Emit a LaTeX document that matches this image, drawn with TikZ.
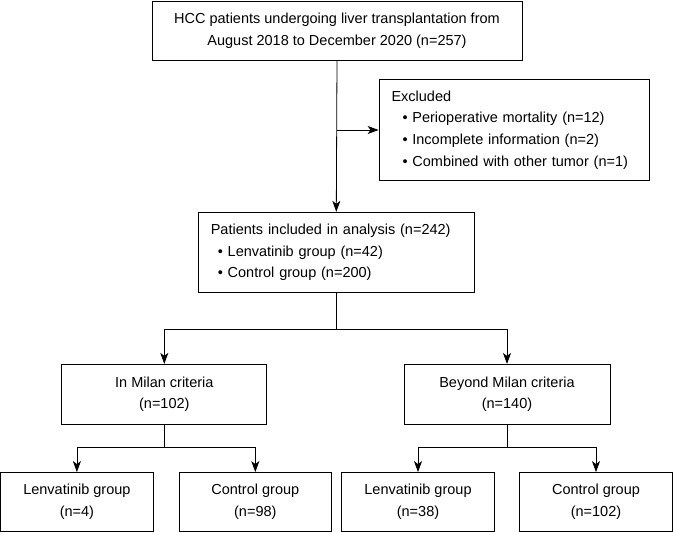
\documentclass[tikz,border=0pt]{standalone}
\usepackage{fontspec}
\setmainfont{Liberation Sans}
\usetikzlibrary{arrows.meta}
\begin{document}
\begin{tikzpicture}[x=1pt,y=-1pt,
  every node/.style={font=\fontsize{14.5}{21.7}\selectfont},
  box/.style={draw=black, line width=0.8pt, inner sep=0pt, align=center},
  lbox/.style={draw=black, line width=0.8pt, inner xsep=12.5pt, inner ysep=0pt, align=left},
  line/.style={line width=0.8pt},
  arr/.style={line width=0.8pt, -{Stealth[length=11pt,width=8pt,inset=3pt]}}
]
\useasboundingbox (0,0) rectangle (673,533);
\node[box, minimum width=370pt, minimum height=59pt] (top) at (337,30.5)
  {HCC patients undergoing liver transplantation from\\August 2018 to December 2020 (n=257)};
\node[lbox, minimum width=270pt, minimum height=101.5pt, text width=245pt] (excl) at (514,130)
  {Excluded\\\hspace*{11pt}\textbullet\ Perioperative mortality (n=12)\\\hspace*{11pt}\textbullet\ Incomplete information (n=2)\\\hspace*{11pt}\textbullet\ Combined with other tumor (n=1)};
\node[lbox, minimum width=276pt, minimum height=80.5pt, text width=251pt] (incl) at (336.3,252.5)
  {Patients included in analysis (n=242)\\\hspace*{7pt}\textbullet\ Lenvatinib group (n=42)\\\hspace*{7pt}\textbullet\ Control group (n=200)};
\node[box, minimum width=205pt, minimum height=60pt] (milan) at (164.3,394.3)
  {In Milan criteria\\(n=102)};
\node[box, minimum width=206pt, minimum height=60pt] (beyond) at (507,394.3)
  {Beyond Milan criteria\\(n=140)};
\node[box, minimum width=152.5pt, minimum height=59pt] (l1) at (76.9,502)
  {Lenvatinib group\\(n=4)};
\node[box, minimum width=152.5pt, minimum height=59pt] (c1) at (255.3,502)
  {Control group\\(n=98)};
\node[box, minimum width=153.5pt, minimum height=59pt] (l2) at (418,502)
  {Lenvatinib group\\(n=38)};
\node[box, minimum width=152.5pt, minimum height=59pt] (c2) at (596,502)
  {Control group\\(n=102)};
% connectors
\draw[arr] (top.south) -- (incl.north);
\coordinate (jx) at (top.south |- excl.west);
\draw[arr] (jx) -- (excl.west);
\coordinate (j1) at (incl.south |- 0,329.3);
\draw[line] (incl.south) -- (j1);
\draw[arr] (j1) -| (milan.north);
\draw[arr] (j1) -| (beyond.north);
\coordinate (j2) at (milan.south |- 0,447.7);
\draw[line] (milan.south) -- (j2);
\draw[arr] (j2) -| (l1.north);
\draw[arr] (j2) -| (c1.north);
\coordinate (j3) at (beyond.south |- 0,447.7);
\draw[line] (beyond.south) -- (j3);
\draw[arr] (j3) -| (l2.north);
\draw[arr] (j3) -| (c2.north);
\end{tikzpicture}
\end{document}
